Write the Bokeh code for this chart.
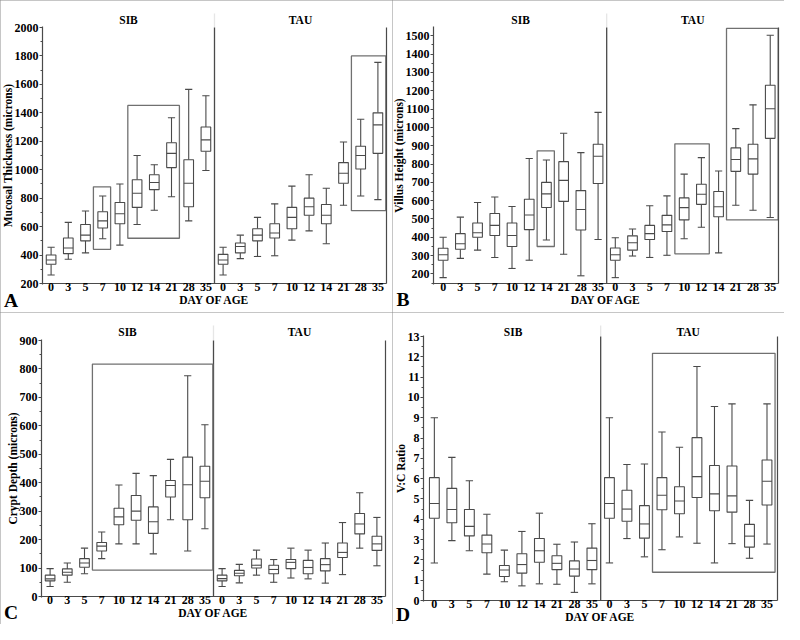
import math
import numpy as np
from bokeh.plotting import figure
from bokeh.layouts import gridplot
from bokeh.models import Range1d, LinearAxis, FixedTicker, Label, AllLabels
from bokeh.embed import file_html
from bokeh.resources import INLINE

DAYS = [0, 3, 5, 7, 10, 12, 14, 21, 28, 35]
GROUPS = ["SIB", "TAU"]

# Panel A: Mucosal thickness (SIB days then TAU days)
MT_LOW = [260, 370, 415, 515, 470, 615, 715, 810, 640, 995, 260, 375, 390, 395, 505, 570, 480, 750, 815, 790]
MT_Q1 = [335, 410, 500, 590, 620, 735, 860, 1015, 740, 1130, 335, 415, 500, 520, 585, 680, 620, 905, 1005, 1115]
MT_MED = [365, 450, 540, 640, 690, 835, 910, 1115, 905, 1210, 365, 460, 540, 555, 665, 740, 680, 975, 1100, 1315]
MT_Q3 = [400, 520, 615, 705, 770, 930, 965, 1190, 1070, 1300, 405, 485, 585, 620, 735, 800, 755, 1050, 1165, 1400]
MT_HIGH = [455, 630, 710, 815, 900, 1100, 1035, 1365, 1565, 1520, 455, 540, 665, 760, 885, 965, 870, 1195, 1355, 1755]
MT_HL = [("SIB", 7, 7, 440, 880), ("SIB", 12, 21, 518, 1452), ("TAU", 28, 35, 712, 1800)]

# Panel B: Villus height
VH_LOW = [180, 285, 330, 290, 230, 275, 385, 308, 190, 388, 180, 298, 290, 302, 392, 455, 315, 575, 548, 508]
VH_Q1 = [275, 335, 400, 410, 350, 442, 563, 596, 440, 694, 275, 330, 388, 432, 495, 580, 512, 760, 745, 940]
VH_MED = [305, 365, 425, 465, 410, 522, 637, 711, 552, 842, 305, 370, 420, 468, 562, 635, 567, 825, 828, 1102]
VH_Q3 = [340, 420, 478, 530, 478, 608, 700, 813, 655, 908, 342, 408, 465, 520, 615, 690, 650, 888, 908, 1230]
VH_HIGH = [400, 510, 590, 620, 568, 830, 822, 968, 862, 1082, 398, 445, 572, 626, 745, 835, 762, 993, 1123, 1503]
VH_HL = [("SIB", 14, 14, 350, 872), ("TAU", 10, 12, 310, 910), ("TAU", 21, 35, 495, 1540)]

# Panel C: Crypt depth
CD_LOW = [35, 50, 80, 133, 185, 185, 150, 270, 160, 238, 35, 48, 75, 50, 65, 62, 47, 77, 170, 108]
CD_Q1 = [55, 75, 103, 160, 252, 268, 222, 350, 270, 347, 55, 73, 100, 80, 98, 80, 90, 137, 220, 162]
CD_MED = [62, 85, 118, 177, 280, 300, 263, 390, 393, 405, 63, 82, 110, 95, 120, 102, 112, 155, 255, 185]
CD_Q3 = [75, 97, 133, 190, 310, 355, 315, 408, 490, 458, 75, 92, 132, 110, 130, 127, 133, 188, 292, 212]
CD_HIGH = [98, 118, 170, 227, 392, 433, 425, 482, 776, 604, 98, 113, 163, 130, 170, 163, 188, 260, 365, 278]
CD_HL = [("SIB", 7, 35, 93, 817)]

# Panel D: V:C ratio
VC_LOW = [1.85, 2.95, 2.45, 1.3, 0.92, 0.72, 0.82, 0.8, 0.4, 0.82, 1.85, 3.05, 2.15, 2.5, 3.13, 2.82, 1.85, 2.8, 2.08, 2.78]
VC_Q1 = [4.05, 3.83, 3.18, 2.35, 1.18, 1.35, 1.88, 1.52, 1.2, 1.52, 4.05, 3.9, 3.07, 4.47, 4.27, 5.07, 4.42, 4.35, 2.63, 4.7]
VC_MED = [4.78, 4.48, 3.65, 2.78, 1.5, 1.77, 2.45, 1.83, 1.55, 1.97, 4.78, 4.5, 3.77, 5.18, 4.9, 6.1, 5.25, 5.15, 3.17, 5.87]
VC_Q3 = [6.05, 5.52, 4.48, 3.22, 1.72, 2.3, 3.05, 2.2, 1.95, 2.58, 6.05, 5.43, 4.67, 6.05, 5.6, 8.02, 6.65, 6.62, 3.75, 6.92]
VC_HIGH = [9.0, 7.05, 5.9, 4.25, 2.48, 3.4, 4.3, 2.77, 2.88, 3.78, 9.0, 6.7, 6.72, 8.3, 7.55, 11.52, 9.55, 9.68, 4.93, 9.68]
VC_HL = [("TAU", 7, 35, 1.39, 12.17)]

W, H = 392, 312
FONT = "Liberation Serif"
LC = "#4a4a4a"
HLC = "#707070"
BOX_W = 0.56
CAP_W = 0.42


def make_panel(letter, ylabel, yr, xr, ystep, frame, letter_top, stats, highlights):
    left, right, top, bottom = frame
    sx = (xr[1] - xr[0]) / (right - left)
    sy = (yr[1] - yr[0]) / (bottom - top)

    def xd(px):
        return xr[0] + (px - left) * sx

    def yd(py):
        return yr[1] - (py - top) * sy

    p = figure(width=W, height=H,
               x_range=Range1d(xd(0), xd(W)), y_range=Range1d(yd(H), yd(0)),
               x_axis_type=None, y_axis_type=None,
               output_backend="svg", toolbar_location=None, tools="", min_border=0,
               outline_line_color=None, background_fill_color="white",
               border_fill_color="white")
    p.styles = {"outline": "1.5px solid #8c8c8c", "outline-offset": "-1.5px"}
    p.grid.visible = False

    n = len(DAYS) * len(GROUPS)
    x = np.arange(n)
    labels = {i: str(DAYS[i % len(DAYS)]) for i in range(n)}
    ey = 0.002 * (yr[1] - yr[0])

    k0 = math.ceil(yr[0] / ystep - 1e-9)
    k1 = math.floor(yr[1] / ystep + 1e-9)
    major = [round(k * ystep, 6) for k in range(k0, k1 + 1)]
    minor = [round((k + 0.5) * ystep, 6) for k in range(k0 - 1, k1 + 1)
             if yr[0] <= (k + 0.5) * ystep <= yr[1]]
    ya = LinearAxis(fixed_location=xr[0], bounds=(yr[0] - ey, yr[1] + ey),
                    ticker=FixedTicker(ticks=major, minor_ticks=minor),
                    major_label_policy=AllLabels())
    ya.axis_line_color = LC
    ya.axis_line_width = 1.2
    ya.major_tick_line_color = LC
    ya.minor_tick_line_color = LC
    ya.major_tick_out = 3
    ya.major_tick_in = 0
    ya.minor_tick_out = 2
    ya.minor_tick_in = 0
    ya.major_label_text_font = FONT
    ya.major_label_text_font_style = "bold"
    ya.major_label_text_font_size = "12px"
    ya.major_label_text_color = "black"
    ya.major_label_standoff = 1
    ya.axis_label = ylabel
    ya.axis_label_text_font = FONT
    ya.axis_label_text_font_style = "bold"
    ya.axis_label_text_font_size = "11.5px"
    ya.axis_label_text_color = "black"
    ya.axis_label_standoff = -2
    p.add_layout(ya, "left")

    xa = LinearAxis(fixed_location=yr[0], bounds=xr, ticker=FixedTicker(ticks=list(range(n))),
                    major_label_policy=AllLabels())
    xa.major_label_overrides = labels
    xa.major_tick_line_color = None
    xa.minor_tick_line_color = None
    xa.major_tick_out = 0
    xa.major_tick_in = 0
    xa.axis_line_color = LC
    xa.axis_line_width = 1.2
    xa.major_label_text_font = FONT
    xa.major_label_text_font_style = "bold"
    xa.major_label_text_font_size = "12px"
    xa.major_label_text_color = "black"
    xa.major_label_standoff = -1
    xa.axis_label = "DAY OF AGE"
    xa.axis_label_text_font = FONT
    xa.axis_label_text_font_style = "bold"
    xa.axis_label_text_font_size = "11.5px"
    xa.axis_label_text_color = "black"
    xa.axis_label_standoff = 0
    p.add_layout(xa, "below")

    ra = LinearAxis(fixed_location=xr[1], bounds=yr, ticker=FixedTicker(ticks=[]),
                    axis_line_color=LC, axis_line_width=1.2,
                    major_tick_line_color=None, minor_tick_line_color=None)
    p.add_layout(ra, "right")

    # panel letter, drawn as the only label of a line-less axis in the bottom-left corner
    lt = round(xd(10.5), 4)
    la = LinearAxis(fixed_location=yd(letter_top), bounds=(lt - 0.05, lt + 0.05),
                    ticker=FixedTicker(ticks=[lt]), major_label_overrides={lt: letter},
                    axis_line_color=None, major_tick_line_color=None, minor_tick_line_color=None,
                    major_tick_out=0, major_tick_in=0, major_label_standoff=0,
                    major_label_text_font=FONT, major_label_text_font_style="bold",
                    major_label_text_font_size="19.5px", major_label_text_color="black")
    p.add_layout(la, "below")

    low, q1, med, q3, high = [np.asarray(s, dtype=float) for s in stats]
    mid = (n - 1) / 2

    # faint divider in the header, solid divider between groups
    p.segment([mid], [yr[1]], [mid], [yd(13)], line_color="#e6e6e6", line_width=1.3)
    p.segment([mid], [yr[0]], [mid], [yr[1]], line_color=LC, line_width=1.3)

    # highlight rectangles
    for grp, d0, d1, lo, hi in highlights:
        off = GROUPS.index(grp) * len(DAYS)
        i0 = off + DAYS.index(d0)
        i1 = off + DAYS.index(d1)
        p.quad(left=[i0 - 0.54], right=[i1 + 0.46], bottom=[lo], top=[hi],
               fill_color=None, line_color=HLC, line_width=1.3)

    p.segment(x, low, x, q1, line_color=LC, line_width=1.1)
    p.segment(x, q3, x, high, line_color=LC, line_width=1.1)
    p.segment(x - CAP_W / 2, low, x + CAP_W / 2, low, line_color=LC, line_width=1.1)
    p.segment(x - CAP_W / 2, high, x + CAP_W / 2, high, line_color=LC, line_width=1.1)
    p.quad(left=x - BOX_W / 2, right=x + BOX_W / 2, bottom=q1, top=q3,
           fill_color="white", line_color=LC, line_width=1.1)
    p.segment(x - BOX_W / 2, med, x + BOX_W / 2, med, line_color=LC, line_width=1.1)

    for gi, g in enumerate(GROUPS):
        cx = gi * len(DAYS) + (len(DAYS) - 1) / 2
        p.add_layout(Label(x=cx, y=yd(19.5), text=g, text_align="center", text_baseline="middle",
                           text_font=FONT, text_font_style="bold", text_font_size="11.5px",
                           text_color="black"))
    return p


pA = make_panel("A", "Mucosal Thickness (microns)", (200, 2000), (-0.5, 19.5), 200,
                (42, 386, 27, 283), 289, (MT_LOW, MT_Q1, MT_MED, MT_Q3, MT_HIGH), MT_HL)
pB = make_panel("B", "Villus Height (microns)", (148, 1545), (-0.56, 19.48), 100,
                (41, 386, 27, 283), 288, (VH_LOW, VH_Q1, VH_MED, VH_Q3, VH_HIGH), VH_HL)
pC = make_panel("C", "Crypt Depth (microns)", (0, 900), (-0.5, 19.5), 100,
                (41, 385, 28, 284), 289, (CD_LOW, CD_Q1, CD_MED, CD_Q3, CD_HIGH), CD_HL)
pD = make_panel("D", "V:C Ratio", (0, 13), (-0.62, 19.6), 1,
                (31, 385, 24, 288), 291, (VC_LOW, VC_Q1, VC_MED, VC_Q3, VC_HIGH), VC_HL)

grid = gridplot([[pA, pB], [pC, pD]], toolbar_location=None)

with open("out.html", "w") as f:
    f.write(file_html(grid, INLINE))
